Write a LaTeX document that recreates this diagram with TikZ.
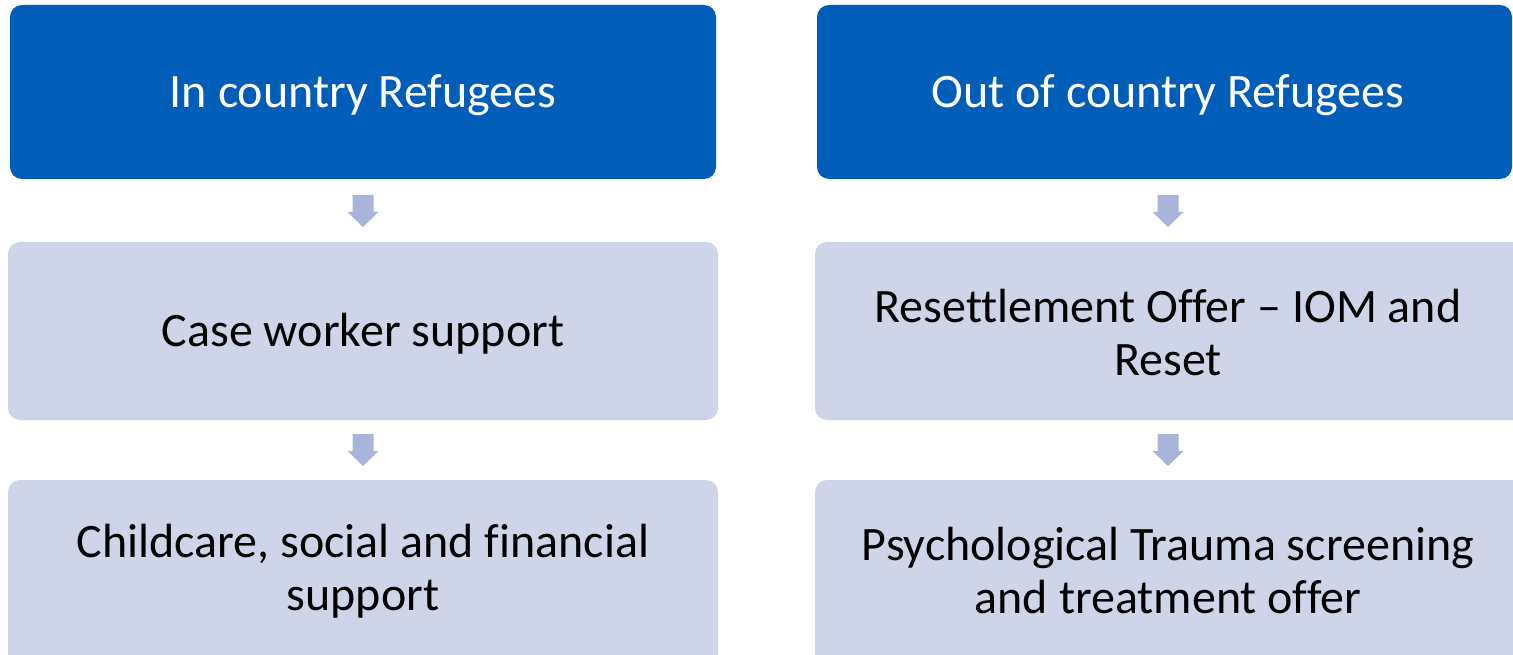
\documentclass[tikz,border=0pt]{standalone}
\usepackage{fontspec}
\setmainfont[Ligatures=NoCommon]{Carlito}
\definecolor{topblue}{HTML}{005EB8}
\definecolor{lightbox}{HTML}{CFD5E8}
\definecolor{arrowcol}{HTML}{A8B4DA}
\begin{document}
\begin{tikzpicture}[x=1pt,y=-1pt,
  topbox/.style={fill=topblue,rounded corners=12pt},
  subbox/.style={fill=lightbox,rounded corners=12pt},
  toptext/.style={text=white,font=\fontsize{48}{53}\selectfont,align=center},
  subtext/.style={text=black,font=\fontsize{48}{53}\selectfont,align=center},
  downarrow/.style={fill=arrowcol}]
\useasboundingbox (0,0) rectangle (1513,655);
\clip (0,0) rectangle (1513,655);
% left column
\fill[topbox] (10,5) rectangle (716,179);
\node[toptext] (t1) at (363,95) {In country Refugees};
\fill[subbox] (8,242) rectangle (718,420);
\node[subtext] (m1) at (363,334) {Case worker support};
\fill[subbox] (8,480) rectangle (718,680);
\node[subtext] (b1) at (363,571) {Childcare, social and financial\\support};
% right column
\fill[topbox] (817,5) rectangle (1512,179);
\node[toptext] (t2) at (1168,95) {Out of country Refugees};
\fill[subbox] (815,242) rectangle (1530,420);
\node[subtext] (m2) at (1168,333) {Resettlement Offer – IOM and\\Reset};
\fill[subbox] (815,480) rectangle (1530,680);
\node[subtext] (b2) at (1168,571) {Psychological Trauma screening\\and treatment offer};
% arrows
\foreach \cx/\cy in {363/195,363/434,1168/195,1168/434}{
  \fill[downarrow] (\cx-10.5,\cy) -- (\cx+10.5,\cy) -- (\cx+10.5,\cy+17) -- (\cx+15.5,\cy+17)
    -- (\cx,\cy+32) -- (\cx-15.5,\cy+17) -- (\cx-10.5,\cy+17) -- cycle;
}
\end{tikzpicture}
\end{document}
